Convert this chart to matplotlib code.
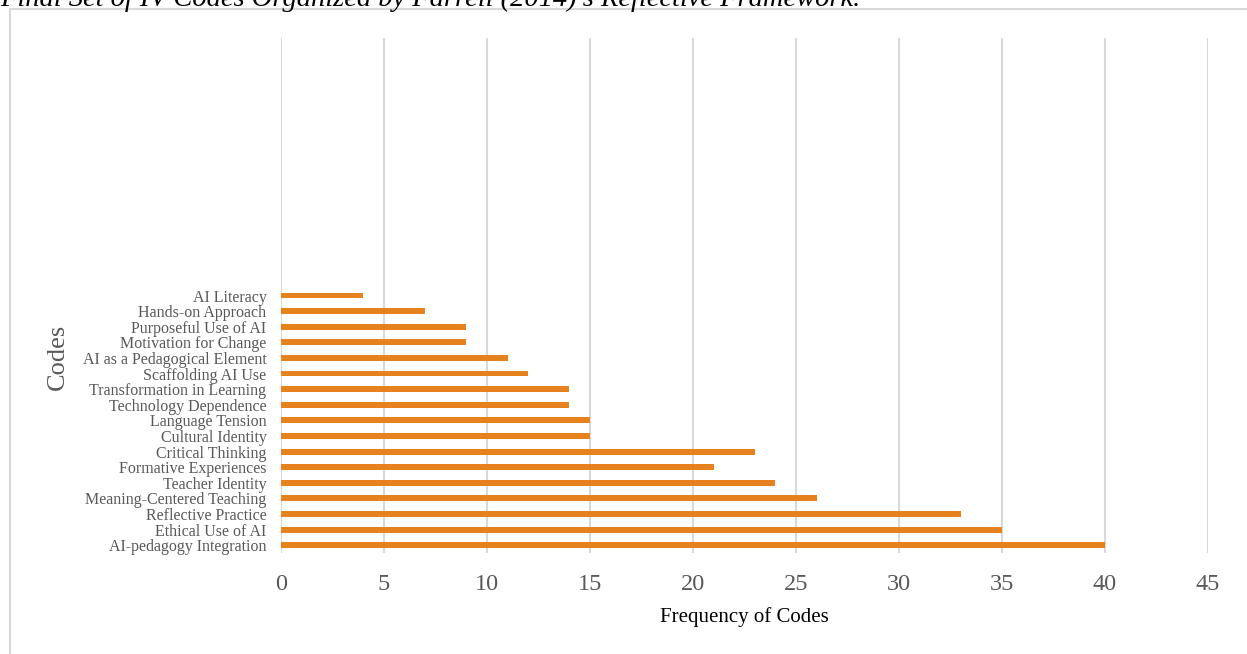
import matplotlib as m
m.use("Agg")
import matplotlib.pyplot as plt
from matplotlib.patches import Rectangle

# Codes listed bottom to top, as they appear on the chart
codes = ["AI-pedagogy Integration", "Ethical Use of AI", "Reflective Practice",
         "Meaning-Centered Teaching", "Teacher Identity", "Formative Experiences",
         "Critical Thinking", "Cultural Identity", "Language Tension",
         "Technology Dependence", "Transformation in Learning", "Scaffolding AI Use",
         "AI as a Pedagogical Element", "Motivation for Change",
         "Purposeful Use of AI", "Hands-on Approach", "AI Literacy"]
counts = [40, 35, 33, 26, 24, 21, 23, 15, 15, 14, 14, 12, 11, 9, 9, 7, 4]
xticks = [0, 5, 10, 15, 20, 25, 30, 35, 40, 45]

W, H = 1247, 654
fig = plt.figure(figsize=(W / 100, H / 100), dpi=100)
plt.rcParams['font.family'] = ['Liberation Serif', 'DejaVu Serif']

# outer chart border (runs off right and bottom edges)
fig.patches.append(Rectangle((10 / W, -0.1), 1.2, 1 - 9 / H + 0.1,
                             transform=fig.transFigure, fill=False,
                             edgecolor='#D9D9D9', linewidth=1.5))

fig.text(0, 1 - 6 / H, "Final Set of IV Codes Organized by Farrell (2014)'s Reflective Framework.",
         fontsize=20.5, style='italic', va='baseline', ha='left')

left, right, top, bottom = 281, 1208, 38, 553
ax = fig.add_axes([left / W, 1 - bottom / H, (right - left) / W, (bottom - top) / H])

ypos = list(range(len(codes)))
ax.barh(ypos, counts, height=0.38, color='#E6821E', zorder=3)
ax.set_xlim(0, 45)
ax.set_ylim(-0.5, 32.5)
ax.set_xticks(xticks)
ax.set_xticklabels([str(t) for t in xticks], fontsize=17.5, color='#595959')
ax.set_yticks(ypos)
ax.set_yticklabels(codes, fontsize=11.5, color='#595959')
ax.tick_params(axis='x', length=0, pad=15)
ax.tick_params(axis='y', length=0, pad=10.5)
ax.grid(axis='x', color='#D9D9D9', linewidth=1.5, zorder=0)
for s in ax.spines.values():
    s.set_visible(False)

fig.text(744 / W, 1 - 617 / H, "Frequency of Codes", fontsize=15, ha='center', va='center')
fig.text(58 / W, 1 - 357 / H, "Codes", fontsize=19, color='#595959', rotation=90,
         ha='center', va='center')

plt.savefig("out.png", dpi=100)
